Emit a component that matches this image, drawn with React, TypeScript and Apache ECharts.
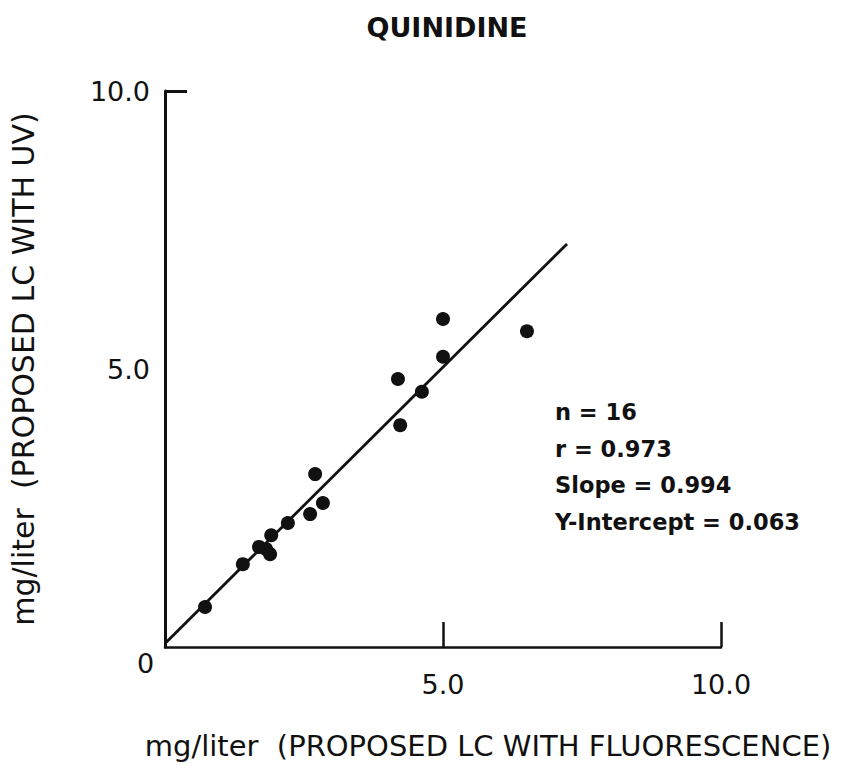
import React, { useEffect, useRef } from "react";
import * as echarts from "echarts";

// Quinidine, mg/liter: LC with fluorescence (x) vs LC with UV (y)
const fluorescence = [0.72, 1.40, 1.69, 1.91, 1.89, 1.82, 2.21, 2.61, 2.70, 2.84, 4.19, 4.23, 4.62, 5.00, 5.00, 6.51];
const uv = [0.72, 1.49, 1.80, 2.01, 1.67, 1.76, 2.23, 2.39, 3.11, 2.59, 4.82, 3.99, 4.59, 5.90, 5.22, 5.68];

// Regression line
const fitSlope = 0.994;
const fitIntercept = 0.063;
const fitXRange = [0, 7.23];

const statLines = ["n = 16", "r = 0.973", "Slope = 0.994", "Y-Intercept = 0.063"];

const xTickValues = [5, 10];
const yTickValues = [10];
const xLabelValues = [5, 10];
const yLabelValues = [5, 10];

const FONT = "'DejaVu Sans', sans-serif";
const INK = "#111";

export default function App() {
  const ref = useRef<HTMLDivElement>(null);

  useEffect(() => {
    if (!ref.current) return;
    const chart = echarts.init(ref.current, null, { renderer: "svg" });

    const points = fluorescence.map((x, i) => [x, uv[i]]);
    const fitLine = fitXRange.map((x) => [x, fitSlope * x + fitIntercept]);

    chart.setOption({
      animation: false,
      backgroundColor: "#ffffff",
      textStyle: { fontFamily: FONT, color: INK },
      title: {
        text: "QUINIDINE",
        left: 442,
        top: 9,
        textAlign: "center",
        textStyle: { fontFamily: FONT, fontWeight: "bold", fontSize: 27, color: INK },
      },
      grid: { left: 165, top: 91, right: 122, bottom: 125 },
      xAxis: {
        type: "value",
        min: 0,
        max: 10,
        interval: 5,
        splitLine: { show: false },
        axisLine: { show: true, lineStyle: { color: INK, width: 2.5 } },
        axisTick: {
          show: true,
          inside: true,
          length: 25,
          customValues: xTickValues,
          lineStyle: { color: INK, width: 2.5 },
        },
        axisLabel: {
          customValues: xLabelValues,
          formatter: (v: number) => v.toFixed(1),
          margin: 24,
          fontSize: 27,
          fontFamily: FONT,
          color: INK,
        },
        name: "mg/liter  (PROPOSED LC WITH FLUORESCENCE)",
        nameLocation: "middle",
        nameGap: 84,
        nameTextStyle: { fontSize: 29, fontFamily: FONT, color: INK, padding: [0, 0, 0, 90] },
      },
      yAxis: {
        type: "value",
        min: 0,
        max: 10,
        interval: 5,
        splitLine: { show: false },
        axisLine: { show: true, lineStyle: { color: INK, width: 3 } },
        axisTick: {
          show: true,
          inside: true,
          length: 22,
          customValues: yTickValues,
          lineStyle: { color: INK, width: 3 },
        },
        axisLabel: {
          customValues: yLabelValues,
          formatter: (v: number) => v.toFixed(1),
          margin: 15,
          fontSize: 27,
          fontFamily: FONT,
          color: INK,
        },
        name: "mg/liter  (PROPOSED LC WITH UV)",
        nameLocation: "middle",
        nameGap: 127,
        nameRotate: 90,
        nameTextStyle: { fontSize: 30, fontFamily: FONT, color: INK },
      },
      graphic: [
        {
          type: "text",
          left: 137,
          top: 650,
          style: { text: "0", fontSize: 27, fontFamily: FONT, fill: INK },
        },
        {
          type: "text",
          left: 555,
          top: 394,
          style: {
            text: statLines.join("\n"),
            fontSize: 22.5,
            fontWeight: "bold",
            lineHeight: 36.5,
            fontFamily: FONT,
            fill: INK,
          },
        },
      ],
      series: [
        {
          type: "line",
          data: fitLine,
          symbol: "none",
          lineStyle: { color: INK, width: 2.8 },
          z: 2,
        },
        {
          type: "scatter",
          data: points,
          symbol: "circle",
          symbolSize: 14,
          itemStyle: { color: INK, opacity: 1 },
          z: 3,
        },
      ],
    });

    return () => chart.dispose();
  }, []);

  return (
    <div
      ref={ref}
      style={{ position: "fixed", left: 0, top: 0, width: 843, height: 772 }}
    />
  );
}
